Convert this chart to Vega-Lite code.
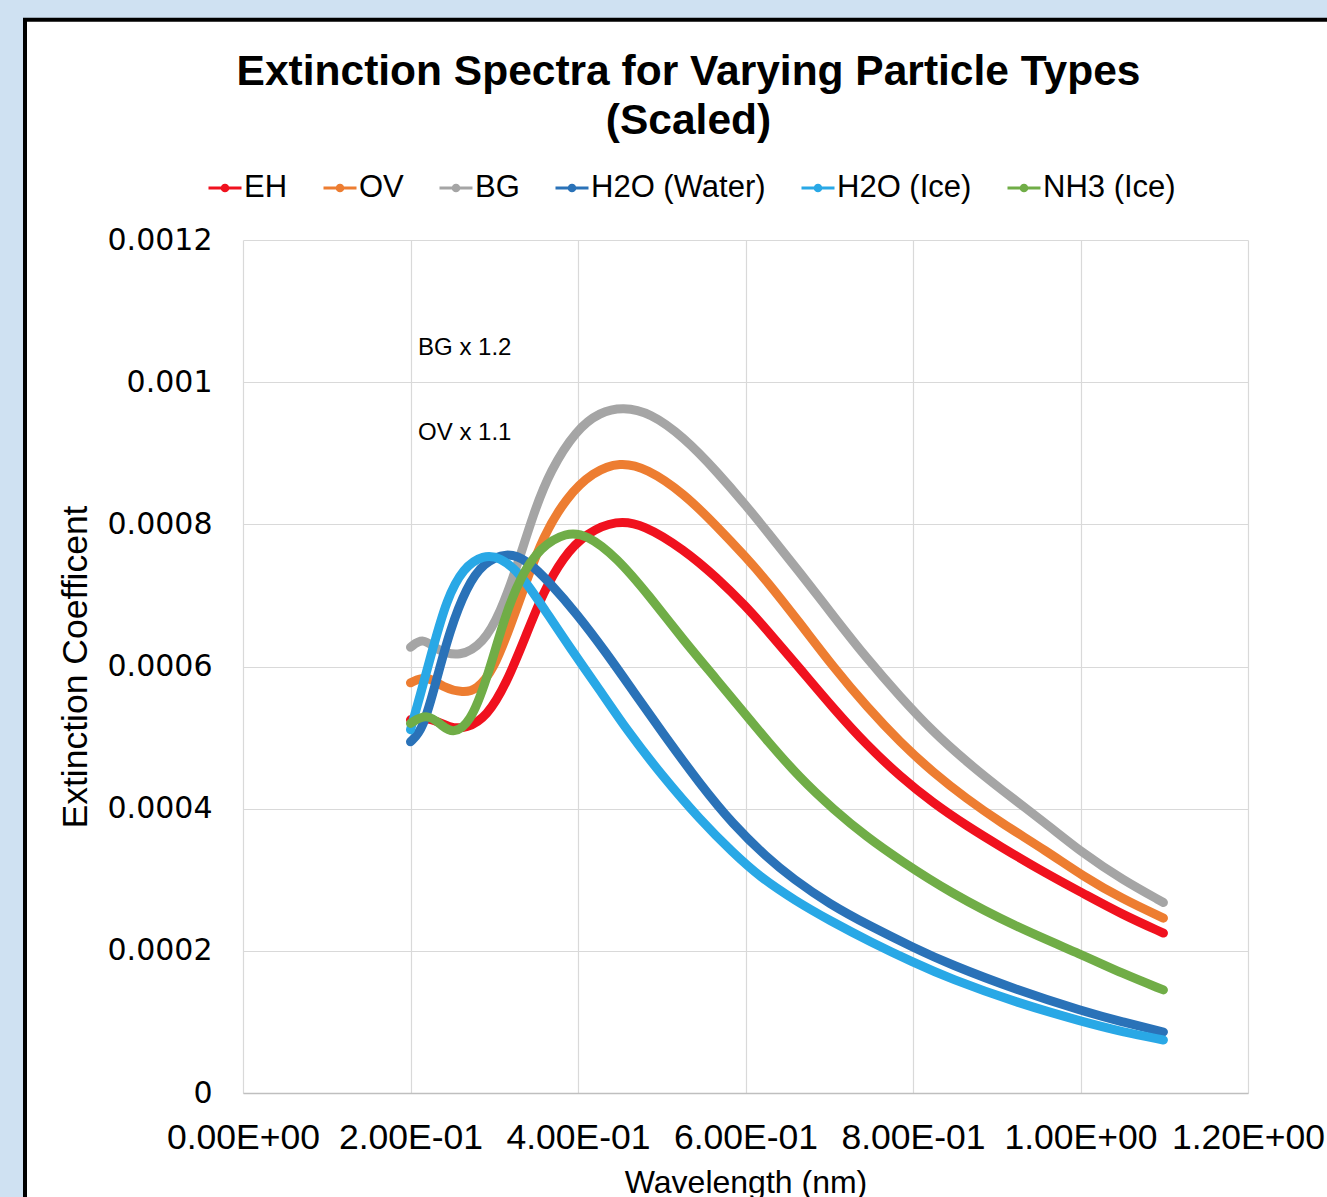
{
  "$schema": "https://vega.github.io/schema/vega-lite/v6.json",
  "width": 1005,
  "height": 853,
  "autosize": {"type": "none"},
  "padding": {"left": 243, "top": 240, "right": 79, "bottom": 104},
  "background": "#ffffff",
  "title": {
    "text": ["Extinction Spectra for Varying Particle Types", "(Scaled)"],
    "font": "Liberation Sans",
    "fontSize": 42.5,
    "fontWeight": "bold",
    "color": "#000000",
    "anchor": "middle",
    "frame": "group",
    "dx": -57,
    "offset": -144,
    "lineHeight": 49
  },
  "config": {
    "view": {"stroke": null, "fill": "#ffffff"},
    "axis": {"gridColor": "#d9d9d9", "gridWidth": 1.2, "ticks": false, "labelColor": "#000000", "titleColor": "#000000"},
    "legend": {
      "orient": "none",
      "legendX": -36,
      "legendY": -70,
      "direction": "horizontal",
      "title": null,
      "labelFont": "Liberation Sans",
      "labelFontSize": 31,
      "labelColor": "#000000",
      "labelLimit": 0,
      "symbolType": "M-1,0H1M-0.17,0A0.17,0.17 0 1,0 0.17,0A0.17,0.17 0 1,0 -0.17,0",
      "symbolSize": 1089,
      "symbolStrokeWidth": 3,
      "labelOffset": 1,
      "columnPadding": 29,
      "padding": 0
    }
  },
  "layer": [
    {
      "data": {
        "values": [
          {"series": "EH", "wl": 0.2, "ext": 0.000525},
          {"series": "EH", "wl": 0.223, "ext": 0.000529},
          {"series": "EH", "wl": 0.247, "ext": 0.000513},
          {"series": "EH", "wl": 0.267, "ext": 0.000513},
          {"series": "EH", "wl": 0.291, "ext": 0.000529},
          {"series": "EH", "wl": 0.315, "ext": 0.000577},
          {"series": "EH", "wl": 0.339, "ext": 0.000647},
          {"series": "EH", "wl": 0.358, "ext": 0.000703},
          {"series": "EH", "wl": 0.382, "ext": 0.000754},
          {"series": "EH", "wl": 0.41, "ext": 0.000788},
          {"series": "EH", "wl": 0.446, "ext": 0.000806},
          {"series": "EH", "wl": 0.478, "ext": 0.0008},
          {"series": "EH", "wl": 0.526, "ext": 0.000765},
          {"series": "EH", "wl": 0.566, "ext": 0.000725},
          {"series": "EH", "wl": 0.601, "ext": 0.000684},
          {"series": "EH", "wl": 0.625, "ext": 0.000652},
          {"series": "EH", "wl": 0.665, "ext": 0.000597},
          {"series": "EH", "wl": 0.705, "ext": 0.000541},
          {"series": "EH", "wl": 0.745, "ext": 0.000489},
          {"series": "EH", "wl": 0.785, "ext": 0.000445},
          {"series": "EH", "wl": 0.824, "ext": 0.000408},
          {"series": "EH", "wl": 0.864, "ext": 0.000376},
          {"series": "EH", "wl": 0.904, "ext": 0.000347},
          {"series": "EH", "wl": 0.96, "ext": 0.000308},
          {"series": "EH", "wl": 1.003, "ext": 0.000281},
          {"series": "EH", "wl": 1.05, "ext": 0.000251},
          {"series": "EH", "wl": 1.099, "ext": 0.000225},

          {"series": "OV", "wl": 0.2, "ext": 0.000577},
          {"series": "OV", "wl": 0.22, "ext": 0.000588},
          {"series": "OV", "wl": 0.239, "ext": 0.00057},
          {"series": "OV", "wl": 0.263, "ext": 0.000563},
          {"series": "OV", "wl": 0.279, "ext": 0.000567},
          {"series": "OV", "wl": 0.299, "ext": 0.000595},
          {"series": "OV", "wl": 0.319, "ext": 0.000656},
          {"series": "OV", "wl": 0.339, "ext": 0.000722},
          {"series": "OV", "wl": 0.358, "ext": 0.000782},
          {"series": "OV", "wl": 0.386, "ext": 0.000838},
          {"series": "OV", "wl": 0.418, "ext": 0.000874},
          {"series": "OV", "wl": 0.45, "ext": 0.000888},
          {"series": "OV", "wl": 0.482, "ext": 0.000879},
          {"series": "OV", "wl": 0.526, "ext": 0.000844},
          {"series": "OV", "wl": 0.566, "ext": 0.000797},
          {"series": "OV", "wl": 0.601, "ext": 0.000753},
          {"series": "OV", "wl": 0.625, "ext": 0.000721},
          {"series": "OV", "wl": 0.665, "ext": 0.000661},
          {"series": "OV", "wl": 0.705, "ext": 0.000599},
          {"series": "OV", "wl": 0.745, "ext": 0.000543},
          {"series": "OV", "wl": 0.785, "ext": 0.000493},
          {"series": "OV", "wl": 0.824, "ext": 0.000451},
          {"series": "OV", "wl": 0.864, "ext": 0.000414},
          {"series": "OV", "wl": 0.904, "ext": 0.000381},
          {"series": "OV", "wl": 0.96, "ext": 0.00034},
          {"series": "OV", "wl": 1.003, "ext": 0.000305},
          {"series": "OV", "wl": 1.05, "ext": 0.000273},
          {"series": "OV", "wl": 1.099, "ext": 0.000246},

          {"series": "BG", "wl": 0.2, "ext": 0.000627},
          {"series": "BG", "wl": 0.215, "ext": 0.000641},
          {"series": "BG", "wl": 0.231, "ext": 0.000623},
          {"series": "BG", "wl": 0.259, "ext": 0.000613},
          {"series": "BG", "wl": 0.287, "ext": 0.000633},
          {"series": "BG", "wl": 0.307, "ext": 0.000675},
          {"series": "BG", "wl": 0.327, "ext": 0.00074},
          {"series": "BG", "wl": 0.347, "ext": 0.000816},
          {"series": "BG", "wl": 0.367, "ext": 0.000876},
          {"series": "BG", "wl": 0.398, "ext": 0.000933},
          {"series": "BG", "wl": 0.426, "ext": 0.000958},
          {"series": "BG", "wl": 0.454, "ext": 0.000965},
          {"series": "BG", "wl": 0.486, "ext": 0.000957},
          {"series": "BG", "wl": 0.526, "ext": 0.000923},
          {"series": "BG", "wl": 0.566, "ext": 0.000874},
          {"series": "BG", "wl": 0.601, "ext": 0.000826},
          {"series": "BG", "wl": 0.625, "ext": 0.000791},
          {"series": "BG", "wl": 0.665, "ext": 0.000732},
          {"series": "BG", "wl": 0.705, "ext": 0.000671},
          {"series": "BG", "wl": 0.745, "ext": 0.000611},
          {"series": "BG", "wl": 0.785, "ext": 0.000557},
          {"series": "BG", "wl": 0.824, "ext": 0.000508},
          {"series": "BG", "wl": 0.864, "ext": 0.000466},
          {"series": "BG", "wl": 0.904, "ext": 0.000428},
          {"series": "BG", "wl": 0.96, "ext": 0.000378},
          {"series": "BG", "wl": 1.003, "ext": 0.000337},
          {"series": "BG", "wl": 1.05, "ext": 0.0003},
          {"series": "BG", "wl": 1.099, "ext": 0.000268},

          {"series": "H2O (Water)", "wl": 0.2, "ext": 0.000494},
          {"series": "H2O (Water)", "wl": 0.215, "ext": 0.000511},
          {"series": "H2O (Water)", "wl": 0.231, "ext": 0.000581},
          {"series": "H2O (Water)", "wl": 0.247, "ext": 0.000651},
          {"series": "H2O (Water)", "wl": 0.267, "ext": 0.000712},
          {"series": "H2O (Water)", "wl": 0.287, "ext": 0.000746},
          {"series": "H2O (Water)", "wl": 0.315, "ext": 0.000761},
          {"series": "H2O (Water)", "wl": 0.339, "ext": 0.00075},
          {"series": "H2O (Water)", "wl": 0.367, "ext": 0.000717},
          {"series": "H2O (Water)", "wl": 0.398, "ext": 0.000675},
          {"series": "H2O (Water)", "wl": 0.434, "ext": 0.000619},
          {"series": "H2O (Water)", "wl": 0.466, "ext": 0.000565},
          {"series": "H2O (Water)", "wl": 0.502, "ext": 0.000505},
          {"series": "H2O (Water)", "wl": 0.546, "ext": 0.000434},
          {"series": "H2O (Water)", "wl": 0.585, "ext": 0.000378},
          {"series": "H2O (Water)", "wl": 0.625, "ext": 0.000332},
          {"series": "H2O (Water)", "wl": 0.657, "ext": 0.000301},
          {"series": "H2O (Water)", "wl": 0.7, "ext": 0.000266},
          {"series": "H2O (Water)", "wl": 0.75, "ext": 0.000234},
          {"series": "H2O (Water)", "wl": 0.8, "ext": 0.000205},
          {"series": "H2O (Water)", "wl": 0.844, "ext": 0.000181},
          {"series": "H2O (Water)", "wl": 0.924, "ext": 0.000145},
          {"series": "H2O (Water)", "wl": 1.003, "ext": 0.000115},
          {"series": "H2O (Water)", "wl": 1.05, "ext": 0.0001},
          {"series": "H2O (Water)", "wl": 1.099, "ext": 0.0000858},

          {"series": "H2O (Ice)", "wl": 0.2, "ext": 0.000511},
          {"series": "H2O (Ice)", "wl": 0.211, "ext": 0.000557},
          {"series": "H2O (Ice)", "wl": 0.227, "ext": 0.000627},
          {"series": "H2O (Ice)", "wl": 0.243, "ext": 0.000694},
          {"series": "H2O (Ice)", "wl": 0.263, "ext": 0.000739},
          {"series": "H2O (Ice)", "wl": 0.287, "ext": 0.000757},
          {"series": "H2O (Ice)", "wl": 0.307, "ext": 0.000754},
          {"series": "H2O (Ice)", "wl": 0.331, "ext": 0.000731},
          {"series": "H2O (Ice)", "wl": 0.358, "ext": 0.000684},
          {"series": "H2O (Ice)", "wl": 0.39, "ext": 0.000627},
          {"series": "H2O (Ice)", "wl": 0.426, "ext": 0.000567},
          {"series": "H2O (Ice)", "wl": 0.458, "ext": 0.000511},
          {"series": "H2O (Ice)", "wl": 0.5, "ext": 0.000447},
          {"series": "H2O (Ice)", "wl": 0.546, "ext": 0.000384},
          {"series": "H2O (Ice)", "wl": 0.585, "ext": 0.000338},
          {"series": "H2O (Ice)", "wl": 0.617, "ext": 0.000304},
          {"series": "H2O (Ice)", "wl": 0.66, "ext": 0.00027},
          {"series": "H2O (Ice)", "wl": 0.7, "ext": 0.000243},
          {"series": "H2O (Ice)", "wl": 0.75, "ext": 0.000212},
          {"series": "H2O (Ice)", "wl": 0.8, "ext": 0.000184},
          {"series": "H2O (Ice)", "wl": 0.844, "ext": 0.000161},
          {"series": "H2O (Ice)", "wl": 0.924, "ext": 0.000127},
          {"series": "H2O (Ice)", "wl": 1.003, "ext": 0.0001},
          {"series": "H2O (Ice)", "wl": 1.05, "ext": 0.000086},
          {"series": "H2O (Ice)", "wl": 1.099, "ext": 0.0000746},

          {"series": "NH3 (Ice)", "wl": 0.2, "ext": 0.00052},
          {"series": "NH3 (Ice)", "wl": 0.22, "ext": 0.000535},
          {"series": "NH3 (Ice)", "wl": 0.239, "ext": 0.000515},
          {"series": "NH3 (Ice)", "wl": 0.251, "ext": 0.000506},
          {"series": "NH3 (Ice)", "wl": 0.271, "ext": 0.00052},
          {"series": "NH3 (Ice)", "wl": 0.291, "ext": 0.000581},
          {"series": "NH3 (Ice)", "wl": 0.311, "ext": 0.000665},
          {"series": "NH3 (Ice)", "wl": 0.331, "ext": 0.000726},
          {"series": "NH3 (Ice)", "wl": 0.355, "ext": 0.000768},
          {"series": "NH3 (Ice)", "wl": 0.386, "ext": 0.000789},
          {"series": "NH3 (Ice)", "wl": 0.41, "ext": 0.000786},
          {"series": "NH3 (Ice)", "wl": 0.446, "ext": 0.000754},
          {"series": "NH3 (Ice)", "wl": 0.486, "ext": 0.000698},
          {"series": "NH3 (Ice)", "wl": 0.526, "ext": 0.000637},
          {"series": "NH3 (Ice)", "wl": 0.566, "ext": 0.000581},
          {"series": "NH3 (Ice)", "wl": 0.601, "ext": 0.000531},
          {"series": "NH3 (Ice)", "wl": 0.625, "ext": 0.000497},
          {"series": "NH3 (Ice)", "wl": 0.665, "ext": 0.000443},
          {"series": "NH3 (Ice)", "wl": 0.705, "ext": 0.000399},
          {"series": "NH3 (Ice)", "wl": 0.745, "ext": 0.00036},
          {"series": "NH3 (Ice)", "wl": 0.785, "ext": 0.000327},
          {"series": "NH3 (Ice)", "wl": 0.844, "ext": 0.000282},
          {"series": "NH3 (Ice)", "wl": 0.924, "ext": 0.000233},
          {"series": "NH3 (Ice)", "wl": 1.003, "ext": 0.000194},
          {"series": "NH3 (Ice)", "wl": 1.05, "ext": 0.000168},
          {"series": "NH3 (Ice)", "wl": 1.099, "ext": 0.000145}
        ]
      },
      "mark": {"type": "line", "strokeWidth": 9, "strokeCap": "round", "strokeJoin": "round", "interpolate": "basis"},
      "encoding": {
        "x": {
          "field": "wl",
          "type": "quantitative",
          "scale": {"domain": [0, 1.2], "nice": false, "zero": false},
          "axis": {
            "title": "Wavelength (nm)",
            "values": [0, 0.2, 0.4, 0.6, 0.8, 1.0, 1.2],
            "labelExpr": "replace(replace(format(datum.value, '.2e'), 'e-', 'E-0'), 'e+', 'E+0')",
            "labelFont": "Liberation Sans",
            "labelFontSize": 35.5,
            "labelPadding": 27,
            "labelOverlap": false,
            "labelFlush": false,
            "titleFont": "Liberation Sans",
            "titleFontSize": 32,
            "titleFontWeight": "normal",
            "titlePadding": 12,
            "domain": true,
            "domainColor": "#bfbfbf",
            "domainWidth": 1.5,
            "grid": true
          }
        },
        "y": {
          "field": "ext",
          "type": "quantitative",
          "scale": {"domain": [0, 0.0012], "nice": false, "zero": true},
          "axis": {
            "title": "Extinction Coefficent",
            "values": [0, 0.0002, 0.0004, 0.0006, 0.0008, 0.001, 0.0012],
            "labelExpr": "format(datum.value, '~g')",
            "labelFont": "DejaVu Sans",
            "labelFontSize": 30,
            "labelPadding": 31,
            "labelOverlap": false,
            "titleFont": "Liberation Sans",
            "titleFontSize": 35.5,
            "titleFontWeight": "normal",
            "titlePadding": 14,
            "domain": false,
            "grid": true
          }
        },
        "color": {
          "field": "series",
          "type": "nominal",
          "scale": {
            "domain": ["EH", "OV", "BG", "H2O (Water)", "H2O (Ice)", "NH3 (Ice)"],
            "range": ["#f0111e", "#ed7d31", "#a5a5a5", "#2a72b8", "#29a8e6", "#70ad47"]
          },
          "sort": ["EH", "OV", "BG", "H2O (Water)", "H2O (Ice)", "NH3 (Ice)"]
        }
      }
    },
    {
      "data": {
        "values": [
          {"note": "BG x 1.2", "wl": 0.209, "ext": 0.001048},
          {"note": "OV x 1.1", "wl": 0.209, "ext": 0.000928}
        ]
      },
      "mark": {"type": "text", "align": "left", "baseline": "middle", "font": "Liberation Sans", "fontSize": 24, "color": "#000000"},
      "encoding": {
        "x": {"field": "wl", "type": "quantitative"},
        "y": {"field": "ext", "type": "quantitative"},
        "text": {"field": "note"}
      }
    },
    {
      "data": {"values": [{}]},
      "mark": {"type": "rect", "fill": "#cfe1f2", "stroke": null},
      "encoding": {
        "x": {"datum": -0.2902},
        "x2": {"datum": -0.2603},
        "y": {"datum": -0.0002},
        "y2": {"datum": 0.00154}
      }
    },
    {
      "data": {"values": [{}]},
      "mark": {"type": "rect", "fill": "#cfe1f2", "stroke": null},
      "encoding": {
        "x": {"datum": -0.2902},
        "x2": {"datum": 1.45},
        "y": {"datum": 0.00151},
        "y2": {"datum": 0.00154}
      }
    },
    {
      "data": {"values": [{}]},
      "mark": {"type": "rect", "fill": null, "stroke": "#000000", "strokeWidth": 4},
      "encoding": {
        "x": {"datum": -0.2603},
        "x2": {"datum": 1.45},
        "y": {"datum": -0.0002},
        "y2": {"datum": 0.00151}
      }
    }
  ]
}
